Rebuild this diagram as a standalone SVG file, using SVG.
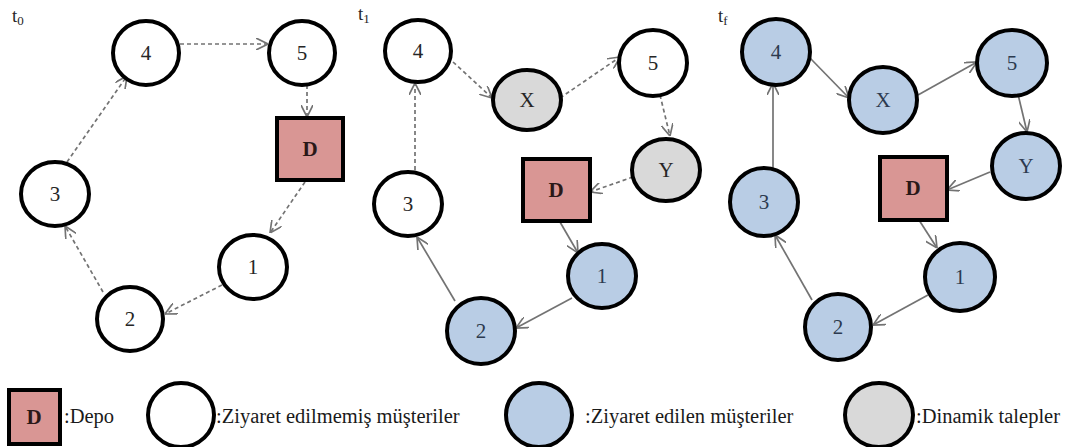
<svg xmlns="http://www.w3.org/2000/svg" width="1072" height="447" viewBox="0 0 1072 447">
  <style>
    .node { stroke: #000; stroke-width: 4; }
    .open { fill: #ffffff; }
    .done { fill: #b9cde5; }
    .dyn  { fill: #d9d9d9; }
    .depo { fill: #d99694; stroke: #000; stroke-width: 4; }
    .lbl  { font-family: "Liberation Serif", "Times New Roman", serif; font-size: 21px; text-anchor: middle; fill: #262626; }
    .lbl.b { fill: #2c3a4f; }
    .dl   { font-family: "Liberation Serif", "Times New Roman", serif; font-size: 21px; font-weight: bold; text-anchor: middle; fill: #2a1818; }
    .leg  { font-family: "Liberation Serif", "Times New Roman", serif; font-size: 20.5px; fill: #1a1a1a; }
    .tl   { font-family: "Liberation Serif", "Times New Roman", serif; font-size: 19px; fill: #262626; }
    .e    { fill: none; stroke: #737373; stroke-width: 1.7; marker-end: url(#arr); }
    .d    { stroke-dasharray: 4 3; }
  </style>
  <defs>
    <marker id="arr" viewBox="0 0 10 10" refX="10" refY="5" markerWidth="12" markerHeight="12" markerUnits="userSpaceOnUse" orient="auto">
      <path d="M0,0 L10,5 L0,10" fill="none" stroke="#737373" stroke-width="1.4"/>
    </marker>
  </defs>
  <rect width="1072" height="447" fill="#ffffff"/>

  <!-- panel titles -->
  <text class="tl" x="12" y="22">t<tspan font-size="13" dy="3">0</tspan></text>
  <text class="tl" x="358" y="20">t<tspan font-size="13" dy="3">1</tspan></text>
  <text class="tl" x="718" y="22">t<tspan font-size="13" dy="3">f</tspan></text>

  <!-- connectors -->
  <g id="connectors">
    <!-- t0: planned route -->
    <line class="e d" x1="180" y1="44" x2="268" y2="44"/>
    <line class="e d" x1="307" y1="85" x2="307" y2="117"/>
    <line class="e d" x1="305" y1="182" x2="270" y2="233"/>
    <line class="e d" x1="222" y1="285" x2="165" y2="314"/>
    <line class="e d" x1="103" y1="292" x2="65" y2="226"/>
    <line class="e d" x1="67" y1="162" x2="127" y2="76"/>
    <!-- t1: partially executed route -->
    <line class="e d" x1="453" y1="62" x2="492" y2="98"/>
    <line class="e d" x1="560" y1="98" x2="620" y2="57"/>
    <line class="e d" x1="660" y1="95" x2="670" y2="136"/>
    <line class="e d" x1="633" y1="177" x2="590" y2="192"/>
    <line class="e" x1="560" y1="222" x2="578" y2="253"/>
    <line class="e" x1="572" y1="298" x2="516" y2="328"/>
    <line class="e" x1="455" y1="301" x2="417" y2="237"/>
    <line class="e d" x1="415" y1="170" x2="415" y2="83"/>
    <!-- tf: completed route -->
    <line class="e" x1="810" y1="58" x2="849" y2="98"/>
    <line class="e" x1="918" y1="95" x2="977" y2="62"/>
    <line class="e" x1="1017" y1="90" x2="1027" y2="132"/>
    <line class="e" x1="990" y1="172" x2="947" y2="190"/>
    <line class="e" x1="919" y1="220" x2="937" y2="248"/>
    <line class="e" x1="928" y1="295" x2="873" y2="325"/>
    <line class="e" x1="812" y1="300" x2="775" y2="235"/>
    <line class="e" x1="773" y1="168" x2="773" y2="83"/>
  </g>

  <!-- t0 nodes -->
  <g id="t0-n4"><ellipse class="node open" cx="146" cy="53" rx="33" ry="32"/><text class="lbl" x="146" y="60">4</text></g>
  <g id="t0-n5"><ellipse class="node open" cx="302" cy="53" rx="33" ry="32"/><text class="lbl" x="302" y="60">5</text></g>
  <g id="t0-D"><rect class="depo" x="277" y="118" width="66" height="62"/><text class="dl" x="310" y="156">D</text></g>
  <g id="t0-n3"><ellipse class="node open" cx="55" cy="194" rx="34" ry="32"/><text class="lbl" x="55" y="201">3</text></g>
  <g id="t0-n1"><ellipse class="node open" cx="253" cy="267" rx="34" ry="32"/><text class="lbl" x="253" y="274">1</text></g>
  <g id="t0-n2"><ellipse class="node open" cx="130" cy="319" rx="33" ry="32"/><text class="lbl" x="130" y="326">2</text></g>

  <!-- t1 nodes -->
  <g id="t1-n4"><ellipse class="node open" cx="418" cy="51" rx="33" ry="31"/><text class="lbl" x="418" y="58">4</text></g>
  <g id="t1-X"><ellipse class="node dyn" cx="527" cy="100" rx="34" ry="30"/><text class="lbl" x="527" y="107">X</text></g>
  <g id="t1-n5"><ellipse class="node open" cx="653" cy="63" rx="34" ry="33"/><text class="lbl" x="653" y="70">5</text></g>
  <g id="t1-Y"><ellipse class="node dyn" cx="666" cy="170" rx="34" ry="31"/><text class="lbl" x="666" y="177">Y</text></g>
  <g id="t1-D"><rect class="depo" x="523" y="159" width="67" height="62"/><text class="dl" x="556" y="197">D</text></g>
  <g id="t1-n3"><ellipse class="node open" cx="408" cy="204" rx="34" ry="32"/><text class="lbl" x="408" y="211">3</text></g>
  <g id="t1-n1"><ellipse class="node done" cx="602" cy="276" rx="34" ry="32"/><text class="lbl b" x="602" y="283">1</text></g>
  <g id="t1-n2"><ellipse class="node done" cx="481" cy="331" rx="34" ry="33"/><text class="lbl b" x="481" y="338">2</text></g>

  <!-- tf nodes -->
  <g id="tf-n4"><ellipse class="node done" cx="776" cy="52" rx="34" ry="33"/><text class="lbl b" x="776" y="59">4</text></g>
  <g id="tf-X"><ellipse class="node done" cx="883" cy="100" rx="34" ry="33"/><text class="lbl b" x="883" y="107">X</text></g>
  <g id="tf-n5"><ellipse class="node done" cx="1012" cy="63" rx="35" ry="33"/><text class="lbl b" x="1012" y="70">5</text></g>
  <g id="tf-Y"><ellipse class="node done" cx="1026" cy="166" rx="34" ry="33"/><text class="lbl b" x="1026" y="173">Y</text></g>
  <g id="tf-D"><rect class="depo" x="880" y="157" width="67" height="63"/><text class="dl" x="913" y="195">D</text></g>
  <g id="tf-n3"><ellipse class="node done" cx="764" cy="202" rx="34" ry="34"/><text class="lbl b" x="764" y="209">3</text></g>
  <g id="tf-n1"><ellipse class="node done" cx="960" cy="277" rx="35" ry="34"/><text class="lbl b" x="960" y="284">1</text></g>
  <g id="tf-n2"><ellipse class="node done" cx="838" cy="327" rx="33" ry="33"/><text class="lbl b" x="838" y="334">2</text></g>

  <!-- legend -->
  <g id="legend-depo"><rect class="depo" x="9" y="390" width="51" height="54"/><text class="dl" x="34" y="424">D</text><text class="leg" x="64" y="423">:Depo</text></g>
  <g id="legend-open"><ellipse class="node open" cx="181" cy="415" rx="33" ry="32"/><text class="leg" x="216" y="423">:Ziyaret edilmemiş müşteriler</text></g>
  <g id="legend-done"><ellipse class="node done" cx="539" cy="415" rx="33" ry="32"/><text class="leg" x="585" y="423">:Ziyaret edilen müşteriler</text></g>
  <g id="legend-dyn"><ellipse class="node dyn" cx="879" cy="415" rx="34" ry="32"/><text class="leg" x="916" y="423">:Dinamik talepler</text></g>
</svg>
